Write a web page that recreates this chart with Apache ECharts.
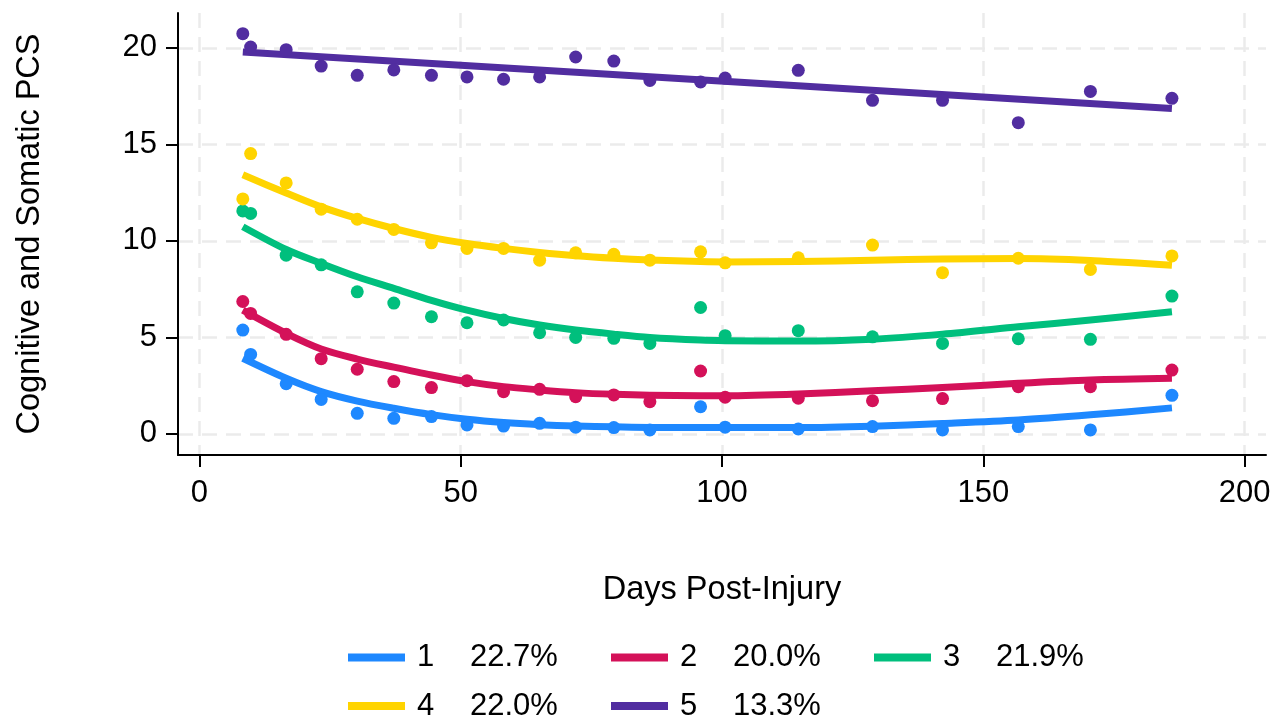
<!DOCTYPE html>
<html>
<head>
<meta charset="utf-8">
<title>PCS trajectories by class</title>
<script src="https://cdn.jsdelivr.net/npm/echarts@6/dist/echarts.min.js"></script>
<style>
  html, body { margin: 0; padding: 0; background: #ffffff; }
  #chart { width: 1275px; height: 719px; }
</style>
</head>
<body>
<div id="chart"></div>
<script>
// Mean assessment day for each observed wave
const days = [8.3, 9.8, 16.6, 23.3, 30.2, 37.2, 44.4, 51.2, 58.2, 65.1, 72.0, 79.3, 86.2, 95.9, 100.6, 114.6, 128.8, 142.2, 156.7, 170.5, 186.1];

// Observed mean cognitive + somatic PCS per class at each wave
const obs1 = [5.38, 4.12, 2.60, 1.79, 1.07, 0.81, 0.90, 0.47, 0.41, 0.55, 0.35, 0.33, 0.21, 1.41, 0.35, 0.26, 0.38, 0.21, 0.38, 0.21, 2.00];
const obs2 = [6.86, 6.24, 5.16, 3.90, 3.35, 2.71, 2.40, 2.76, 2.19, 2.31, 1.93, 2.02, 1.67, 3.26, 1.90, 1.85, 1.72, 1.83, 2.45, 2.45, 3.31];
const obs3 = [11.55, 11.42, 9.26, 8.76, 7.36, 6.78, 6.07, 5.76, 5.90, 5.24, 5.00, 4.95, 4.69, 6.55, 5.09, 5.35, 5.03, 4.69, 4.93, 4.90, 7.14];
const obs4 = [12.17, 14.52, 13.00, 11.64, 11.12, 10.59, 9.90, 9.61, 9.61, 9.00, 9.38, 9.30, 9.00, 9.43, 8.86, 9.12, 9.78, 8.35, 9.10, 8.52, 9.22];
const obs5 = [20.73, 20.04, 19.90, 19.05, 18.57, 18.85, 18.57, 18.49, 18.37, 18.49, 19.52, 19.31, 18.31, 18.23, 18.43, 18.83, 17.28, 17.28, 16.12, 17.74, 17.38];

// Model-estimated trajectories
const fitDays = [8.3, 16.6, 23.3, 30.2, 37.2, 44.4, 51.2, 58.2, 65.1, 72.0, 79.3, 86.2, 95.9, 100.6, 114.6, 128.8, 142.2, 156.7, 170.5, 186.1];
const fit1 = [3.92, 2.88, 2.19, 1.70, 1.33, 1.00, 0.76, 0.59, 0.48, 0.41, 0.37, 0.34, 0.33, 0.33, 0.33, 0.40, 0.54, 0.72, 0.99, 1.35];
const fit2 = [6.41, 5.21, 4.40, 3.88, 3.46, 3.05, 2.71, 2.45, 2.28, 2.14, 2.05, 2.00, 1.98, 1.98, 2.07, 2.24, 2.40, 2.62, 2.79, 2.88];
const fit3 = [10.73, 9.55, 8.83, 8.14, 7.54, 6.92, 6.41, 5.98, 5.64, 5.38, 5.17, 5.00, 4.86, 4.83, 4.81, 4.91, 5.17, 5.55, 5.90, 6.33];
const fit4 = [13.42, 12.48, 11.76, 11.16, 10.64, 10.18, 9.86, 9.61, 9.40, 9.23, 9.10, 9.01, 8.93, 8.91, 8.93, 9.00, 9.06, 9.08, 8.98, 8.74];
// Class 5 follows a linear trajectory
const fit5Days = [8.3, 186.1];
const fit5 = [19.78, 16.85];

// Classes and their share of the sample
const classNames = ['1', '2', '3', '4', '5'];
const classShares = ['22.7%', '20.0%', '21.9%', '22.0%', '13.3%'];
const classColors = ['#1E88FF', '#D41159', '#00BF7D', '#FFD400', '#512DA0'];
// Legend rows
const legendRows = [['1', '2', '3'], ['4', '5']];

// Axis ticks
const xTicks = [0, 50, 100, 150, 200];
const yTicks = [0, 5, 10, 15, 20];

const FONT = '"Liberation Sans", Arial, Helvetica, sans-serif';

const observed = [obs1, obs2, obs3, obs4, obs5];
const fitted = [
  [fitDays, fit1], [fitDays, fit2], [fitDays, fit3], [fitDays, fit4], [fit5Days, fit5]
];

const zip = (xs, ys) => xs.map((x, i) => [x, ys[i]]);

const series = [];
classNames.forEach((name, k) => {
  series.push({
    name: name,
    type: 'line',
    data: zip(fitted[k][0], fitted[k][1]),
    smooth: k === 4 ? false : 0.3,
    showSymbol: false,
    symbol: 'none',
    lineStyle: { color: classColors[k], width: 7, cap: 'butt', join: 'round' },
    itemStyle: { color: classColors[k] },
    z: 2
  });
});
classNames.forEach((name, k) => {
  series.push({
    name: name,
    type: 'scatter',
    data: zip(days, observed[k]),
    symbol: 'circle',
    symbolSize: 13,
    itemStyle: { color: classColors[k], opacity: 1 },
    z: 3
  });
});

const gridLine = { show: true, lineStyle: { color: '#EBEBEB', width: 2.5, type: [15, 9] } };

// One legend per row so both rows share the same column positions
const legendTops = [642, 690.5];
const legends = legendRows.map((row, r) => ({
  left: 348,
  top: legendTops[r],
  orient: 'horizontal',
  itemGap: 0,
  itemWidth: 57,
  itemHeight: 8,
  padding: 0,
  data: row.map(n => ({ name: n, icon: 'rect' })),
  formatter: function (name) {
    const i = classNames.indexOf(name);
    return '{s| }{a|' + name + '}{b|' + classShares[i] + '}';
  },
  textStyle: {
    fontFamily: FONT,
    fontSize: 31,
    color: '#000',
    rich: {
      s: { width: 7, fontSize: 31, lineHeight: 48, fontFamily: FONT },
      a: { width: 53, fontSize: 31, lineHeight: 48, fontFamily: FONT, color: '#000' },
      b: { width: 141, fontSize: 31, lineHeight: 48, fontFamily: FONT, color: '#000' }
    }
  },
  selectedMode: false
}));

const option = {
  animation: false,
  backgroundColor: '#ffffff',
  grid: { left: 178, right: 9, top: 13, bottom: 264, containLabel: false },
  xAxis: {
    type: 'value',
    min: -4.1,
    max: 204.1,
    name: 'Days Post-Injury',
    nameLocation: 'middle',
    nameGap: 119,
    nameTextStyle: { fontFamily: FONT, fontSize: 32.5, color: '#000' },
    axisLine: { show: true, onZero: false, lineStyle: { color: '#000', width: 2 } },
    axisTick: { show: true, length: 12, customValues: xTicks, lineStyle: { color: '#000', width: 2 } },
    axisLabel: { customValues: xTicks, margin: 23, fontFamily: FONT, fontSize: 31, color: '#000' },
    splitLine: gridLine
  },
  yAxis: {
    type: 'value',
    min: -1.09,
    max: 21.8,
    name: 'Cognitive and Somatic PCS',
    nameLocation: 'middle',
    nameGap: 131,
    nameTextStyle: { fontFamily: FONT, fontSize: 32.5, color: '#000' },
    axisLine: { show: true, onZero: false, lineStyle: { color: '#000', width: 2 } },
    axisTick: { show: true, length: 12, customValues: yTicks, lineStyle: { color: '#000', width: 2 } },
    axisLabel: { customValues: yTicks, margin: 21, fontFamily: FONT, fontSize: 31, color: '#000' },
    splitLine: gridLine
  },
  legend: legends,
  series: series
};

const chart = echarts.init(document.getElementById('chart'), null, { renderer: 'canvas' });
chart.setOption(option);
</script>
</body>
</html>
